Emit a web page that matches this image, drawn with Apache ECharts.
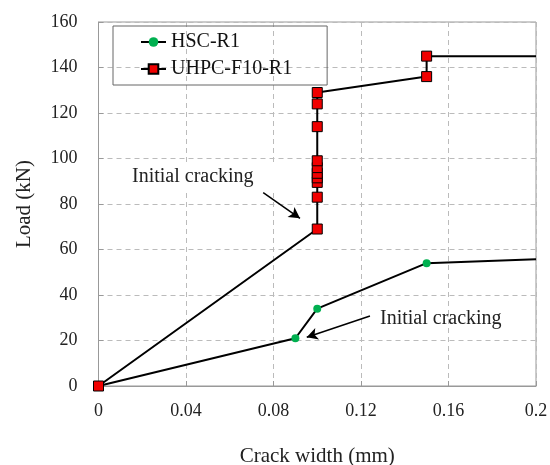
<!DOCTYPE html>
<html><head><meta charset="utf-8">
<script src="https://cdn.jsdelivr.net/npm/echarts@6/dist/echarts.min.js"></script>
<style>html,body{margin:0;padding:0;background:#fff}#c{width:550px;height:465px}</style>
</head><body><div id="c"></div>
<script>
var hscWidth = [0, 0.09, 0.1, 0.15, 0.2];
var hscLoad  = [0, 21, 34, 54, 55.7];
var uhpcWidth = [0, 0.1, 0.1, 0.1, 0.1, 0.1, 0.1, 0.1, 0.1, 0.1, 0.1, 0.15, 0.15, 0.2];
var uhpcLoad  = [0, 69, 83, 89.5, 91.5, 93.5, 96, 99, 114, 124, 129, 136, 145, 145];
var xTicks = [0, 0.04, 0.08, 0.12, 0.16, 0.2];
var yTicks = [0, 20, 40, 60, 80, 100, 120, 140, 160];
var arrow1 = [[0.0753, 85.0], [0.0921, 73.7]];
var arrow2 = [[0.1241, 30.8], [0.0952, 21.4]];

var FONT = 'Liberation Serif';
function pts(xs, ys, lastNone) {
  return xs.map(function (x, i) {
    var p = { value: [x, ys[i]] };
    if (lastNone && i === xs.length - 1) p.symbol = 'none';
    return p;
  });
}
var chart = echarts.init(document.getElementById('c'), null, { renderer: 'canvas' });
chart.setOption({
  animation: false,
  textStyle: { fontFamily: FONT, color: '#222' },
  grid: { left: 98.5, right: 14, top: 22, bottom: 79, show: true, borderColor: '#999', borderWidth: 1,
          containLabel: false, outerBoundsMode: 'none' },
  legend: {
    left: 113, top: 26, orient: 'vertical',
    borderColor: '#666', borderWidth: 1, padding: [6, 35, 6, 27],
    itemWidth: 25, itemHeight: 12, itemGap: 7,
    textStyle: { fontFamily: FONT, fontSize: 20, color: '#111' },
    data: ['HSC-R1', 'UHPC-F10-R1']
  },
  xAxis: {
    type: 'value', min: xTicks[0], max: xTicks[xTicks.length - 1], interval: 0.04,
    name: 'Crack width (mm)', nameLocation: 'middle', nameGap: 60,
    nameTextStyle: { fontFamily: FONT, fontSize: 21, color: '#222' },
    axisLine: { lineStyle: { color: '#999' } },
    axisTick: { inside: true, length: 5, lineStyle: { color: '#999' } },
    axisLabel: { fontFamily: FONT, fontSize: 18, color: '#222', margin: 16 },
    splitLine: { lineStyle: { type: [5, 4], color: '#bbb' } }
  },
  yAxis: {
    type: 'value', min: yTicks[0], max: yTicks[yTicks.length - 1], interval: 20,
    name: 'Load (kN)', nameLocation: 'middle', nameGap: 64,
    nameTextStyle: { fontFamily: FONT, fontSize: 21, color: '#222' },
    axisLine: { show: true, lineStyle: { color: '#999' } },
    axisTick: { show: true, inside: true, length: 5, lineStyle: { color: '#999' } },
    axisLabel: { fontFamily: FONT, fontSize: 18, color: '#222', margin: 21 },
    splitLine: { lineStyle: { type: [5, 4], color: '#bbb' } }
  },
  graphic: [
    { type: 'rect', shape: { x: 106, y: 162, width: 186, height: 30 }, style: { fill: '#fff' }, z: 1 },
    { type: 'text', left: 132, top: 167, style: { text: 'Initial cracking', font: '20px "Liberation Serif"', fill: '#222' }, z: 100 },
    { type: 'text', left: 380, top: 309, style: { text: 'Initial cracking', font: '20px "Liberation Serif"', fill: '#222' }, z: 100 }
  ],
  series: [
    {
      name: 'HSC-R1', type: 'line', data: pts(hscWidth, hscLoad, true), clip: false,
      symbol: 'circle', symbolSize: 8, showAllSymbol: true,
      lineStyle: { color: '#000', width: 2 },
      itemStyle: { color: '#00b050', borderWidth: 0 },
      markLine: {
        silent: true, symbol: ['none', 'arrow'], symbolSize: [9, 11],
        lineStyle: { color: '#000', width: 1.5, type: 'solid' }, label: { show: false },
        data: [
          [{ coord: arrow1[0] }, { coord: arrow1[1] }],
          [{ coord: arrow2[0] }, { coord: arrow2[1] }]
        ]
      },
      z: 3
    },
    {
      name: 'UHPC-F10-R1', type: 'line', data: pts(uhpcWidth, uhpcLoad, true), clip: false,
      symbol: 'rect', symbolSize: 10, showAllSymbol: true,
      lineStyle: { color: '#000', width: 2 },
      itemStyle: { color: '#f00000', borderColor: '#000', borderWidth: 1 },
      z: 4
    }
  ]
});
</script></body></html>
